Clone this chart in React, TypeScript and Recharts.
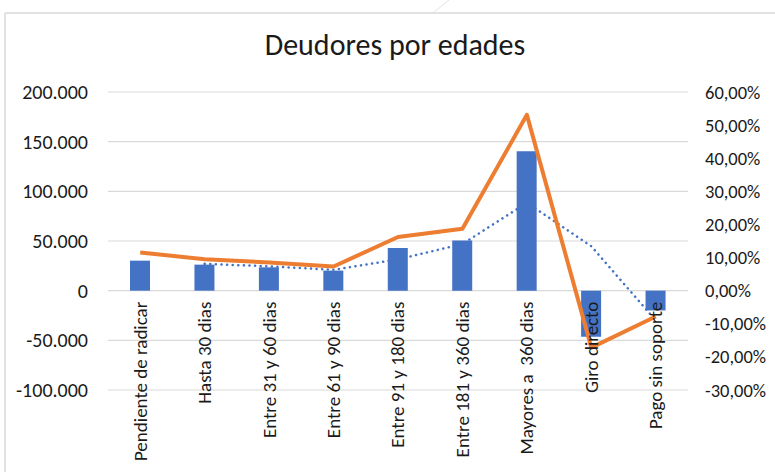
import { ComposedChart, Bar, Line, XAxis, YAxis, CartesianGrid } from "recharts";

const categorias = [
  "Pendiente de radicar",
  "Hasta 30 dias",
  "Entre 31 y 60 dias",
  "Entre 61 y 90 dias",
  "Entre 91 y 180 dias",
  "Entre 181 y 360 dias",
  "Mayores a  360 dias",
  "Giro directo",
  "Pago sin soporte",
];
const saldos = [30200, 26200, 23500, 20200, 43000, 50400, 140400, -46400, -19900];
const participacion = [0.115, 0.095, 0.085, 0.073, 0.162, 0.187, 0.531, -0.172, -0.078];
const mediaMovil = [null, 27000, 24500, 21000, 31500, 47000, 88500, 44700, -30000];

const ticksIzq = [-100000, -50000, 0, 50000, 100000, 150000, 200000];
const ticksDer = [-0.3, -0.2, -0.1, 0, 0.1, 0.2, 0.3, 0.4, 0.5, 0.6];

const data = categorias.map((c, i) => ({
  cat: c,
  saldo: saldos[i],
  pct: participacion[i],
  media: mediaMovil[i],
}));

const W = 775;
const H = 472;
const TOP = 92;
const PLOT_H = 298;
const FONT = "Carlito, Calibri, Lato, 'Open Sans', sans-serif";
const TEXT = "#1a1a1a";

const fmtMiles = (v: number) => {
  if (v === 0) return "0";
  const s = Math.abs(v).toString().replace(/\B(?=(\d{3})+(?!\d))/g, ".");
  return (v < 0 ? "-" : "") + s;
};
const fmtPct = (v: number) => (v * 100).toFixed(2).replace(".", ",") + "%";

function CatTick({ x, payload }: any) {
  const min = ticksIzq[0];
  const max = ticksIzq[ticksIzq.length - 1];
  const zeroY = TOP + (PLOT_H * max) / (max - min);
  const y = zeroY + 11;
  return (
    <text
      x={x}
      y={y}
      transform={`rotate(-90, ${x}, ${y})`}
      textAnchor="end"
      dominantBaseline="central"
      fill={TEXT}
      fontSize={19}
      fontFamily={FONT}
      style={{ whiteSpace: "pre" }}
    >
      {payload.value}
    </text>
  );
}

export default function App() {
  return (
    <div
      style={{
        position: "absolute",
        left: 0,
        top: 0,
        width: W,
        height: H,
        background: "#fff",
        overflow: "hidden",
      }}
    >
      <svg width={W} height={H} style={{ position: "absolute", left: 0, top: 0 }}>
        <line x1={449} y1={0} x2={433} y2={13} stroke="#e3e3e3" strokeWidth={1} />
        <line x1={5} y1={13} x2={W} y2={13} stroke="#d9d9d9" strokeWidth={1.5} />
        <line x1={5} y1={13} x2={5} y2={H} stroke="#d9d9d9" strokeWidth={1.5} />
      </svg>
      <div
        style={{
          position: "absolute",
          left: 0,
          width: 790,
          top: 27,
          textAlign: "center",
          fontFamily: FONT,
          fontSize: 30,
          lineHeight: "36px",
          color: TEXT,
        }}
      >
        Deudores por edades
      </div>
      <div style={{ position: "absolute", left: 0, top: 0 }}>
        <ComposedChart
          width={W}
          height={H}
          data={data}
          margin={{ top: TOP, right: 0, bottom: 0, left: 0 }}
        >
          <CartesianGrid yAxisId="izq" vertical={false} stroke="#d9d9d9" strokeWidth={1.2} />
          <XAxis
            dataKey="cat"
            height={H - TOP - PLOT_H}
            axisLine={false}
            tickLine={false}
            interval={0}
            tick={<CatTick />}
          />
          <YAxis
            yAxisId="izq"
            width={108}
            domain={[ticksIzq[0], ticksIzq[ticksIzq.length - 1]]}
            ticks={ticksIzq}
            tickFormatter={fmtMiles}
            axisLine={false}
            tickLine={false}
            tickSize={0}
            tickMargin={20}
            tick={{ fill: TEXT, fontSize: 20, fontFamily: FONT }}
          />
          <YAxis
            yAxisId="der"
            orientation="right"
            width={87}
            domain={[ticksDer[0], ticksDer[ticksDer.length - 1]]}
            ticks={ticksDer}
            tickFormatter={fmtPct}
            axisLine={false}
            tickLine={false}
            tickSize={0}
            tickMargin={17}
            tick={{ fill: TEXT, fontSize: 18.5, fontFamily: FONT }}
          />
          <Bar yAxisId="izq" dataKey="saldo" fill="#4472C4" barSize={20} isAnimationActive={false} />
          <Line
            yAxisId="izq"
            dataKey="media"
            stroke="#4472C4"
            strokeWidth={2.5}
            strokeDasharray="0.1 5.5"
            strokeLinecap="round"
            dot={false}
            activeDot={false}
            isAnimationActive={false}
          />
          <Line
            yAxisId="der"
            dataKey="pct"
            stroke="#ED7D31"
            strokeWidth={4}
            strokeLinejoin="round"
            dot={false}
            activeDot={false}
            isAnimationActive={false}
          />
        </ComposedChart>
      </div>
    </div>
  );
}
